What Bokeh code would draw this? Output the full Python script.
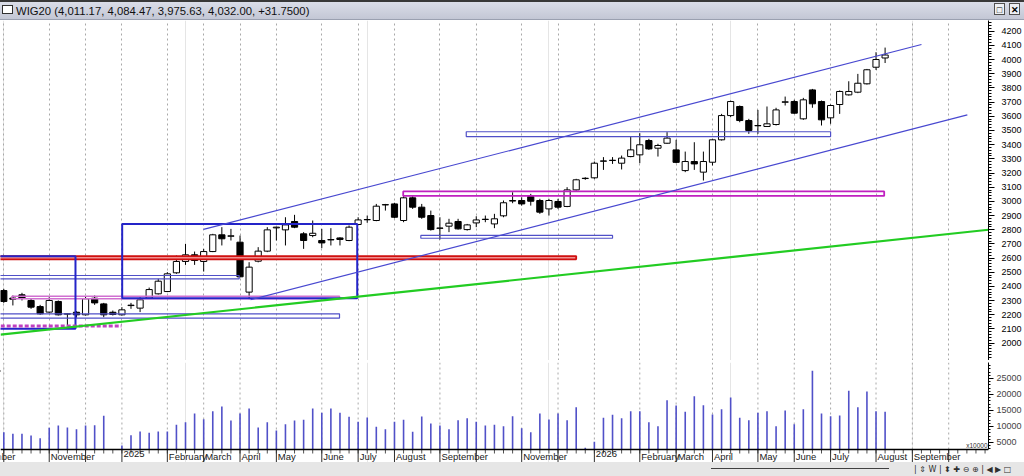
import numpy as np
from bokeh.plotting import figure
from bokeh.models import ColumnDataSource, FixedTicker, Grid, Range1d, Div, Span
from bokeh.layouts import column
from bokeh.core.properties import value
from bokeh.embed import file_html
from bokeh.resources import INLINE

# ---------------- data (weekly WIG20) ----------------
open_ = [2371, 2318, 2341, 2301, 2258, 2219, 2294, 2207, 2218, 2200,
         2317, 2277, 2218, 2200, 2265, 2247, 2317, 2348, 2364, 2496,
         2576, 2623, 2576, 2646, 2764, 2754, 2712, 2360, 2578, 2649,
         2813, 2799, 2858, 2771, 2759, 2724, 2728, 2742, 2724, 2837,
         2870, 2865, 2975, 2982, 2865, 3025, 2959, 2900, 2810, 2825,
         2858, 2801, 2848, 2872, 2841, 2898, 3002, 3006, 3034, 3006,
         2947, 2999, 2964, 3081, 3161, 3166, 3283, 3288, 3269, 3316,
         3328, 3429, 3375, 3410, 3363, 3217, 3281, 3206, 3276, 3434,
         3605, 3669, 3570, 3533, 3528, 3542, 3699, 3704, 3582, 3786,
         3704, 3589, 3683, 3751, 3770, 3829, 3946, 4011.17]
high = [2383, 2336, 2355, 2312, 2270, 2324, 2301, 2212, 2226, 2329,
        2336, 2284, 2230, 2254, 2284, 2324, 2392, 2454, 2501, 2618,
        2700, 2646, 2665, 2771, 2818, 2806, 2759, 2571, 2677, 2818,
        2822, 2888, 2905, 2783, 2865, 2806, 2811, 2747, 2830, 2888,
        2900, 2982, 2982, 2990, 3036, 3036, 2982, 2935, 2888, 2877,
        2877, 2841, 2895, 2900, 2912, 3006, 3064, 3029, 3053, 3018,
        3018, 3018, 3100, 3159, 3170, 3281, 3312, 3312, 3323, 3457,
        3481, 3441, 3406, 3488, 3434, 3351, 3417, 3351, 3441, 3617,
        3711, 3676, 3582, 3645, 3669, 3660, 3739, 3716, 3730, 3793,
        3711, 3683, 3782, 3847, 3899, 3934, 4052, 4084.47]
low = [2284, 2266, 2301, 2242, 2200, 2214, 2195, 2120, 2180, 2195,
       2270, 2183, 2195, 2195, 2242, 2219, 2312, 2343, 2360, 2489,
       2552, 2552, 2505, 2642, 2689, 2724, 2465, 2310, 2570, 2642,
       2724, 2689, 2811, 2665, 2747, 2670, 2689, 2689, 2719, 2834,
       2849, 2860, 2935, 2881, 2853, 2947, 2877, 2794, 2731, 2783,
       2801, 2794, 2818, 2853, 2811, 2888, 2987, 2970, 2970, 2912,
       2900, 2947, 2959, 3076, 3152, 3159, 3222, 3264, 3225, 3311,
       3269, 3363, 3316, 3406, 3269, 3206, 3222, 3147, 3253, 3429,
       3594, 3558, 3476, 3476, 3528, 3535, 3676, 3617, 3575, 3660,
       3535, 3547, 3617, 3746, 3763, 3824, 3927, 3975.63]
close = [2294, 2310, 2317, 2254, 2207, 2301, 2200, 2205, 2200, 2313,
         2284, 2200, 2202, 2235, 2268, 2306, 2378, 2437, 2489, 2576,
         2623, 2583, 2646, 2764, 2736, 2757, 2468, 2536, 2649, 2799,
         2818, 2834, 2818, 2724, 2775, 2707, 2731, 2731, 2818, 2869,
         2872, 2966, 2977, 2888, 3025, 2959, 2888, 2801, 2812, 2846,
         2806, 2834, 2869, 2874, 2877, 2990, 3006, 2982, 3001, 2924,
         3006, 2959, 3081, 3152, 3163, 3269, 3285, 3290, 3305, 3363,
         3399, 3370, 3394, 3446, 3275, 3281, 3264, 3281, 3434, 3605,
         3704, 3570, 3500, 3535, 3547, 3645, 3702, 3622, 3716, 3688,
         3575, 3676, 3775, 3775, 3833, 3928, 4000.25, 4032.00]
volume = [8229, 7708, 7708, 7188, 6354, 9583, 10312, 9688, 9167, 10312,
          10417, 13333, 2900, 4100, 7292, 8438, 8021, 8438, 8438, 10521,
          11354, 14062, 12292, 14792, 16250, 11875, 14062, 15625, 9688, 11354,
          8750, 10729, 11875, 12083, 15625, 14271, 15625, 14271, 13021, 11458,
          12812, 9896, 9167, 11458, 12083, 8333, 13125, 10937, 10312, 9167,
          11979, 12604, 11458, 10312, 10521, 10104, 13229, 9479, 8229, 14062,
          12187, 14062, 11979, 16042, 3330, 5208, 12708, 13646, 12604, 14792,
          14792, 11354, 10104, 18229, 16562, 14583, 19479, 16667, 13750, 15417,
          19062, 12708, 11979, 14271, 14792, 10104, 15000, 10729, 15417, 27396,
          14062, 13229, 13437, 21146, 16042, 20937, 14792, 14583]
week = list(range(len(close)))

# month ticks (week index) and their labels (labels hidden by overlap are blank)
month_idx = [-4, 0, 5, 9, 13, 18, 22, 26, 30, 35, 39, 43, 48, 52, 57, 61,
             65, 70, 74, 78, 83, 87, 91, 96, 100, 104]
month_lbl = ["September", "", "November", "", "2025", "February", "March",
             "April", "May", "June", "July", "August", "September", "",
             "November", "", "2026", "February", "March", "April", "May",
             "June", "July", "August", "September", ""]
axis_weeks = list(range(-1, 109))

price_ticks = list(range(2000, 4201, 100))
vol_ticks = [5000, 10000, 15000, 20000, 25000]

# drawing objects (trend channel, zones)
upper_ch_x, upper_ch_y = [21.98, 101.0], [2802, 4106]
lower_ch_x, lower_ch_y = [27.16, 106.05], [2306, 3610]
green_x, green_y = [-0.36, 108.38], [2060, 2800]
box_left, box_right = [-1, 13.03], [7.89, 38.9]
box_bottom, box_top = [2101, 2317], [2613, 2840]
zone_left, zone_right = [-1, -1, 45.9, 50.9], [25.9, 36.95, 67.0, 91.0]
zone_bottom, zone_top = [2453, 2176, 2740, 3457], [2477, 2207, 2760, 3491]
mag_left, mag_right = [43.96], [96.9]
mag_bottom, mag_top = [3038], [3070]
pink_left, pink_right, pink_bottom, pink_top = [0.9], [36.95], [2313], [2331]
red_left, red_right, red_bottom, red_top = [-1], [63.0], [2591], [2614]
dash_x, dash_y = [-1, 12.95], [2121, 2121]

FONT = "Liberation Sans"
X_RANGE = Range1d(-0.363, 108.38)
FW = 988

# ---------------- price pane ----------------
p = figure(frame_width=FW, frame_height=340, x_range=X_RANGE,
           y_range=Range1d(1877.7, 4275.5), y_axis_location="right",
           x_axis_location=None, output_backend="svg", toolbar_location=None,
           min_border_left=0, min_border_top=0, min_border_bottom=0,
           min_border_right=0, background_fill_color="white",
           border_fill_color="white", outline_line_color=None, margin=0)
p.ygrid.visible = False
p.add_layout(Grid(dimension=0, ticker=FixedTicker(ticks=month_idx),
                  grid_line_color="#a8a8a8", grid_line_dash="2 3"))
ya = p.yaxis[0]
ya.ticker = FixedTicker(ticks=price_ticks, minor_ticks=list(range(1880, 4280, 20)))
ya.axis_line_color = "black"
ya.major_tick_out = 6
ya.major_tick_in = 0
ya.minor_tick_out = 3
ya.minor_tick_in = 0
ya.major_label_standoff = 7
ya.major_label_text_font = FONT
ya.major_label_text_font_size = "9px"
ya.major_label_text_color = "black"

o_arr, c_arr = np.array(open_, float), np.array(close, float)
src = ColumnDataSource(dict(
    x=week, h=high, l=low,
    top=np.maximum(o_arr, c_arr), bottom=np.minimum(o_arr, c_arr),
    col=["white" if c >= o else "black" for o, c in zip(open_, close)]))
p.segment("x", "h", "x", "l", source=src, line_color="black", line_width=1)
p.vbar(x="x", width=0.68, top="top", bottom="bottom", fill_color="col",
       line_color="black", line_width=1, source=src)

# zones / objects
p.quad(left=zone_left, right=zone_right, bottom=zone_bottom, top=zone_top,
       fill_color=None, line_color="#5050c8", line_width=1.2)
p.quad(left=pink_left, right=pink_right, bottom=pink_bottom, top=pink_top,
       fill_color=None, line_color="#d070d0", line_width=1.5)
p.quad(left=mag_left, right=mag_right, bottom=mag_bottom, top=mag_top,
       fill_color=None, line_color="#c020c0", line_width=1.8)
p.quad(left=red_left, right=red_right, bottom=red_bottom, top=red_top,
       fill_color="#f09090", line_color="#d01010", line_width=1.8)
p.quad(left=box_left, right=box_right, bottom=box_bottom, top=box_top,
       fill_color=None, line_color="#2424c8", line_width=2)
p.line(dash_x, dash_y, line_color="#c040c0", line_width=3, line_dash="4 2")
p.line(upper_ch_x, upper_ch_y, line_color="#4848d0", line_width=1.2)
p.line(lower_ch_x, lower_ch_y, line_color="#4848d0", line_width=1.2)
p.line(green_x, green_y, line_color="#22cc22", line_width=2.2)

# ---------------- volume pane (frame includes the date strip) ----------------
VOL_FLOOR, VOL_TOP = 2812, 30000
V_FRAME_H, STRIP_H = 100, 13
unit = (VOL_TOP - VOL_FLOOR) / (V_FRAME_H - STRIP_H)     # volume units per pixel
vol_bottom = VOL_FLOOR - STRIP_H * unit

v = figure(frame_width=FW, frame_height=V_FRAME_H, x_range=X_RANGE,
           y_range=Range1d(vol_bottom, VOL_TOP), y_axis_location="right",
           x_axis_location=None, output_backend="svg", toolbar_location=None,
           min_border_left=0, min_border_top=0, min_border_bottom=0,
           min_border_right=0, background_fill_color="white",
           border_fill_color="white", outline_line_color=None, margin=0)
v.ygrid.visible = False
vy = v.yaxis[0]
vy.ticker = FixedTicker(ticks=vol_ticks, minor_ticks=list(range(3000, 30000, 1000)))
vy.bounds = (VOL_FLOOR, VOL_TOP)
vy.axis_line_color = "black"
vy.major_tick_out = 5
vy.major_tick_in = 0
vy.minor_tick_out = 2
vy.minor_tick_in = 0
vy.major_label_standoff = 3
vy.major_label_text_font = FONT
vy.major_label_text_font_size = "9px"

# month gridlines above the date strip
v.segment(x0=month_idx, y0=[VOL_FLOOR] * len(month_idx), x1=month_idx,
          y1=[VOL_TOP] * len(month_idx), line_color="#a8a8a8", line_dash="2 3")
# volume bars
vsrc = ColumnDataSource(dict(x=week, v=volume, b=[VOL_FLOOR] * len(week)))
v.segment("x", "b", "x", "v", source=vsrc, line_color="#5050c8", line_width=1.6)
# date axis: baseline, weekly ticks, month separators, month names
v.add_layout(Span(location=VOL_FLOOR, dimension="width", line_color="black",
                  line_width=1.5))
v.segment(x0=axis_weeks, y0=[VOL_FLOOR] * len(axis_weeks), x1=axis_weeks,
          y1=[VOL_FLOOR - 4 * unit] * len(axis_weeks), line_color="#505050")
v.segment(x0=month_idx, y0=[VOL_FLOOR] * len(month_idx), x1=month_idx,
          y1=[vol_bottom] * len(month_idx), line_color="#303030")
lab = ColumnDataSource(dict(x=[m for m, t in zip(month_idx, month_lbl) if t],
                            t=[t for t in month_lbl if t]))
v.text(x="x", y=VOL_FLOOR, text="t", source=lab, text_align="left",
       text_baseline="top", x_offset=1.5, y_offset=1.5,
       text_font=value(FONT), text_font_size="9.5px", text_color="#202020")
v.text(x=[X_RANGE.end], y=[VOL_FLOOR], text=["x10000"], text_align="right",
       text_baseline="bottom", x_offset=-1, y_offset=-1,
       text_font=value(FONT), text_font_size="6.5px", text_color="#303030")

# ---------------- title bar & status bar ----------------
title_txt = "WIG20 ({:,.2f}, {:,.2f}, {:,.2f}, {:,.2f}, {:+.4f})".format(
    open_[-1], high[-1], low[-1], close[-1], close[-1] - close[-2])
title_html = (
    '<div style="position:relative;width:1024px;height:20px;box-sizing:border-box;'
    'background:linear-gradient(#dadde8,#c3c7d5);border-top:2px solid #383838;'
    'border-bottom:1px solid #9aa0b0;font-family:\'Liberation Sans\',Arial;font-size:11.3px;">'
    '<span style="position:absolute;left:2px;top:3px;width:11px;height:9px;'
    'border:1px solid #303030;background:#fff;"></span>'
    '<span style="position:absolute;left:16px;top:1px;color:#101010;">' + title_txt + '</span>'
    '<span style="position:absolute;left:994px;top:1px;width:11px;height:12px;'
    'border:1px solid #505050;background:#eef0f4;font-size:9px;line-height:12px;'
    'text-align:center;">&#9633;</span>'
    '<span style="position:absolute;left:1009px;top:1px;width:11px;height:12px;'
    'border:1px solid #505050;background:#eef0f4;font-size:9px;line-height:12px;'
    'text-align:center;font-weight:bold;">&#10005;</span>'
    '</div>')
title_div = Div(text=title_html, width=1024, height=20, margin=0)

sep_div = Div(text='<div style="width:1024px;height:2px;background:#505050;"></div>',
              width=1024, height=2, margin=0)

status_html = (
    '<div style="position:relative;width:1024px;height:14px;background:#e6e6e6;'
    'font-family:\'DejaVu Sans\';font-size:8px;color:#303030;">'
    '<span style="position:absolute;left:711px;top:6px;width:178px;height:1px;background:#404040;"></span>'
    '<span style="position:absolute;left:914px;top:2px;white-space:nowrap;">'
    '| &#8661; W | &#11021; &#10010; &#8854; &#8853; | &#9664; &#9654; &#9633;</span>'
    '</div>')
status_div = Div(text=status_html, width=1024, height=14, margin=0)

layout = column(title_div, p, sep_div, v, status_div, spacing=0, margin=0)
open("out.html", "w").write(file_html(layout, INLINE))
